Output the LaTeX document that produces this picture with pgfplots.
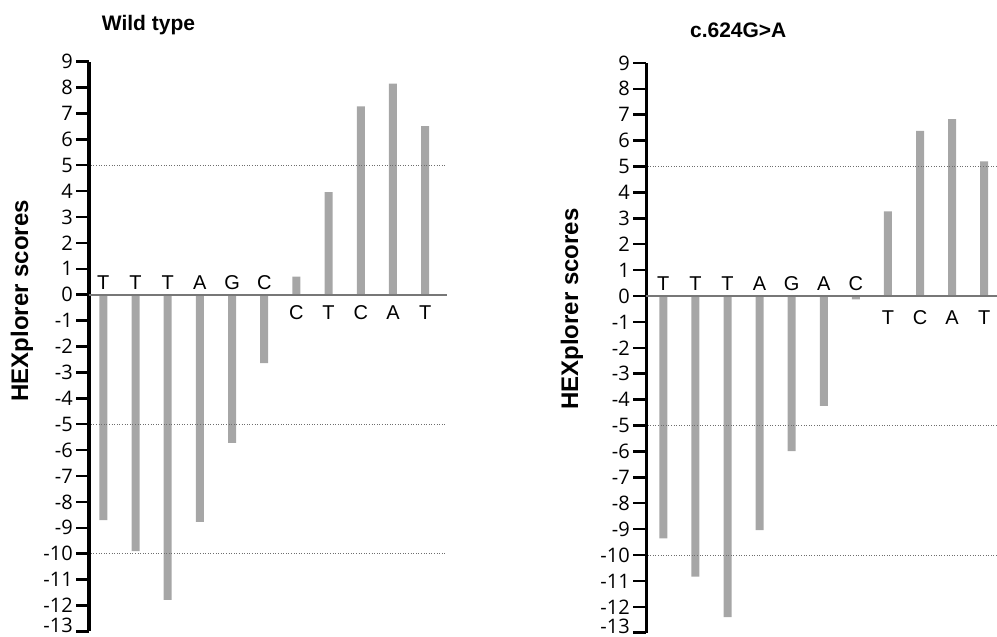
\documentclass[border=0pt]{standalone}
\usepackage{pgfplots}
\pgfplotsset{compat=1.18}
\usepackage{fontspec}
\setmainfont{Liberation Sans}
\newfontfamily\tickfont{Open Sans}
\definecolor{bargray}{HTML}{A6A6A6}
\definecolor{zerogray}{HTML}{777777}
\definecolor{dotgray}{HTML}{6E6E6E}
\tikzset{letter/.style={anchor=base, inner sep=0pt, font=\fontsize{20bp}{22bp}\selectfont}}
\pgfplotsset{hex/.style={
  scale only axis, height=569.8bp,
  ymin=-13, ymax=9, ytick={-12,-11,...,9},
  extra y ticks={-13},
  extra y tick style={yticklabel style={yshift=6bp}},
  axis x line=none, axis y line*=left, xtick=\empty,
  y axis line style={line width=3bp, black},
  ytick style={line width=2.5bp, black},
  tick align=outside, major tick length=13bp,
  /pgf/number format/assume math mode=true,
  yticklabel style={font=\tickfont\fontsize{20bp}{22bp}\selectfont, inner sep=0pt, xshift=-3bp},
  every axis title/.style={anchor=base west, inner sep=0pt, font=\bfseries\fontsize{21bp}{22bp}\selectfont},
  ylabel={HEXplorer scores},
  ylabel style={anchor=center, inner sep=0pt, font=\bfseries\fontsize{24bp}{26bp}\selectfont},
  clip=false,
}}
\begin{document}
\begin{tikzpicture}
\useasboundingbox (0,0) rectangle (997bp,-637bp);
% ---------------- Wild type ----------------
\begin{axis}[hex, at={(89bp,-631.4bp)}, anchor=south west, width=357.7bp,
  xmin=-0.445, xmax=10.67,
  title={Wild type}, title style={at={(axis description cs:0.0355,1.054)}},
  ylabel style={at={(axis description cs:-0.1873,0.58)}}]
\addplot[ybar, bar width=8bp, fill=bargray, draw=none] coordinates {
 (0,-8.7) (1,-9.9) (2,-11.78) (3,-8.77) (4,-5.72) (5,-2.64)
 (6,0.7) (7,3.96) (8,7.27) (9,8.15) (10,6.51)};
\draw[zerogray, line width=1.8bp] (axis cs:-0.445,0) -- (axis cs:10.67,0);
\foreach \v in {5,-5,-10}{
  \edef\tmp{\noexpand\draw[dotgray, line width=1bp, dash pattern=on 1bp off 1.6bp] (axis cs:-0.39,\v) -- (axis cs:10.67,\v);}\tmp}
\node[letter, yshift=5bp] at (axis cs:0,0) {T};
\node[letter, yshift=5bp] at (axis cs:1,0) {T};
\node[letter, yshift=5bp] at (axis cs:2,0) {T};
\node[letter, yshift=5bp] at (axis cs:3,0) {A};
\node[letter, yshift=5bp] at (axis cs:4,0) {G};
\node[letter, yshift=5bp] at (axis cs:5,0) {C};
\node[letter, yshift=-25bp] at (axis cs:6,0) {C};
\node[letter, yshift=-25bp] at (axis cs:7,0) {T};
\node[letter, yshift=-25bp] at (axis cs:8,0) {C};
\node[letter, yshift=-25bp] at (axis cs:9,0) {A};
\node[letter, yshift=-25bp] at (axis cs:10,0) {T};
\end{axis}
% ---------------- c.624G>A ----------------
\begin{axis}[hex, at={(646bp,-632.7bp)}, anchor=south west, width=351bp,
  xmin=-0.54, xmax=10.40,
  title={c.624G>A}, title style={at={(axis description cs:0.125,1.044)}},
  ylabel style={at={(axis description cs:-0.2108,0.568)}}]
\addplot[ybar, bar width=8bp, fill=bargray, draw=none] coordinates {
 (0,-9.36) (1,-10.83) (2,-12.4) (3,-9.04) (4,-5.99) (5,-4.24)
 (6,-0.13) (7,3.27) (8,6.38) (9,6.83) (10,5.2)};
\draw[zerogray, line width=1.8bp] (axis cs:-0.54,0) -- (axis cs:10.40,0);
\foreach \v in {5,-5,-10}{
  \edef\tmp{\noexpand\draw[dotgray, line width=1bp, dash pattern=on 1bp off 1.6bp] (axis cs:-0.49,\v) -- (axis cs:10.40,\v);}\tmp}
\node[letter, yshift=6bp] at (axis cs:0,0) {T};
\node[letter, yshift=6bp] at (axis cs:1,0) {T};
\node[letter, yshift=6bp] at (axis cs:2,0) {T};
\node[letter, yshift=6bp] at (axis cs:3,0) {A};
\node[letter, yshift=6bp] at (axis cs:4,0) {G};
\node[letter, yshift=6bp] at (axis cs:5,0) {A};
\node[letter, yshift=6bp] at (axis cs:6,0) {C};
\node[letter, yshift=-28bp] at (axis cs:7,0) {T};
\node[letter, yshift=-28bp] at (axis cs:8,0) {C};
\node[letter, yshift=-28bp] at (axis cs:9,0) {A};
\node[letter, yshift=-28bp] at (axis cs:10,0) {T};
\end{axis}
\end{tikzpicture}
\end{document}
